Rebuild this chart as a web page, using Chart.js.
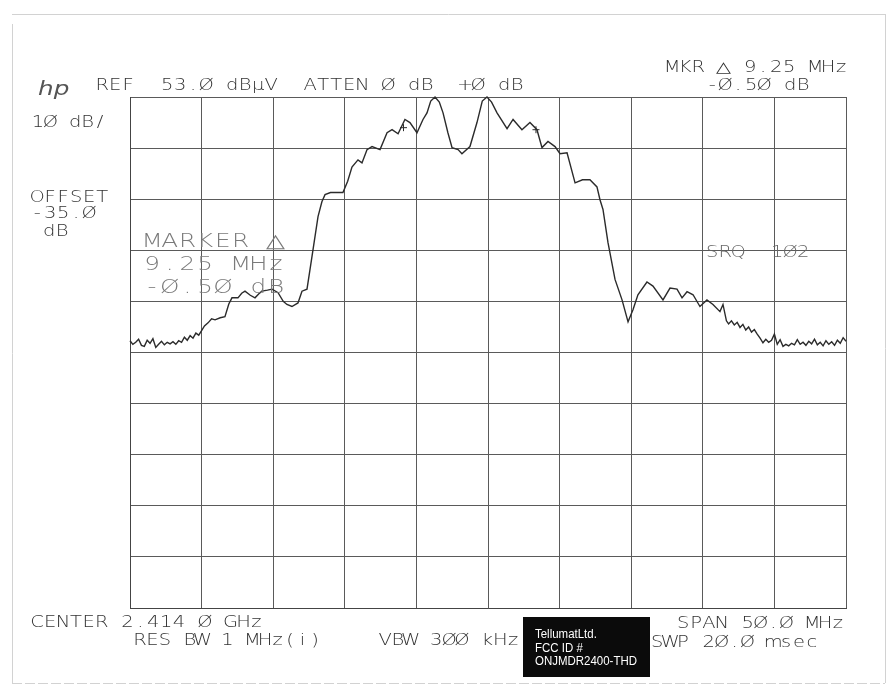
<!DOCTYPE html>
<html><head><meta charset="utf-8">
<script src="https://cdn.jsdelivr.net/npm/chart.js@4.4.1/dist/chart.umd.min.js"></script>
<style>html,body{margin:0;padding:0;background:#fff;}canvas{display:block;}</style>
</head><body>
<canvas id="c" width="896" height="700"></canvas>
<script>
// ---- data (frequency in MHz, level in dBµV) ----
const freqsMHz = [
 2389.0,2389.2,2389.4,2389.6,2389.8,2390.0,2390.2,2390.4,2390.6,2390.8,
 2391.0,2391.2,2391.4,2391.6,2391.8,2392.0,2392.2,2392.4,2392.6,2392.8,
 2393.0,2393.2,2393.4,2393.6,2393.8,2394.0,2394.2,2394.45,2394.7,2394.94,
 2395.3,2395.63,2395.9,2396.12,2396.54,2396.8,2397.03,2397.4,2397.73,2398.0,
 2398.22,2398.6,2398.92,2399.34,2399.7,2399.96,2400.31,2400.73,2401.01,2401.36,
 2401.71,2402.13,2402.4,2402.62,2403.0,2403.87,2404.2,2404.5,2404.92,2405.2,
 2405.55,2405.9,2406.46,2406.95,2407.3,2407.72,2408.2,2408.55,2409.04,2409.46,
 2409.74,2410.0,2410.3,2410.6,2410.86,2411.2,2411.49,2411.91,2412.18,2412.74,
 2413.23,2413.6,2413.93,2414.25,2414.63,2415.33,2415.75,2416.37,2416.93,2417.42,
 2417.77,2418.19,2418.68,2419.03,2419.52,2420.08,2420.6,2421.12,2421.61,2421.82,
 2422.03,2422.38,2422.87,2423.36,2423.78,2424.13,2424.47,2425.1,2425.52,2426.22,
 2426.71,2427.2,2427.55,2427.9,2428.32,2428.8,2429.29,2429.71,2430.2,2430.41,
 2430.65,2430.8,2431.0,2431.2,2431.4,2431.6,2431.8,2432.0,2432.2,2432.4,
 2432.6,2432.8,2433.0,2433.2,2433.4,2433.6,2433.8,2434.0,2434.2,2434.4,
 2434.6,2434.8,2435.0,2435.2,2435.4,2435.6,2435.8,2436.0,2436.2,2436.4,
 2436.6,2436.8,2437.0,2437.2,2437.4,2437.6,2437.8,2438.0,2438.2,2438.4,
 2438.6,2438.8,2439.0
];
const levelsDbuv = [
 5.3,4.6,5.0,5.6,4.4,4.2,5.4,4.8,5.7,4.0,
 4.6,5.2,4.5,5.0,4.7,5.1,4.6,5.3,5.0,6.0,
 5.4,6.3,5.8,6.8,6.4,7.3,8.2,8.8,9.6,9.4,
 9.8,10.0,12.5,13.7,13.7,14.6,15.0,14.2,13.7,14.5,
 15.0,15.2,15.4,14.7,13.0,12.4,12.0,12.7,15.0,15.4,
 21.8,29.6,32.5,33.9,34.3,34.3,36.5,39.3,40.7,40.1,
 42.7,43.3,42.7,46.0,46.6,45.8,48.6,48.0,46.0,48.6,
 49.9,52.2,53.0,52.0,49.9,46.0,43.1,42.7,41.9,43.3,
 48.0,52.2,53.0,52.0,49.9,46.8,48.6,46.6,48.0,46.6,
 43.1,44.3,43.3,41.9,42.1,36.2,36.8,36.8,35.4,32.9,
 31.0,24.5,17.3,13.3,9.0,11.4,14.3,16.8,16.0,13.3,
 15.6,15.4,13.7,14.9,14.3,12.0,13.3,12.4,11.0,12.4,
 9.2,8.6,9.2,8.4,8.9,7.9,8.5,7.4,8.0,7.0,
 7.5,6.6,5.8,4.9,5.6,5.0,5.4,6.6,4.6,5.5,
 4.2,4.6,4.3,4.8,4.5,5.5,4.6,5.0,4.4,5.2,
 4.7,5.6,4.5,5.0,4.3,5.3,4.6,5.1,4.4,5.4,
 4.8,5.9,5.2
];
const markerFreqs = [2408.1, 2417.35];
const markerLevels = [47.0, 46.6];
const xTicks = [2389,2394,2399,2404,2409,2414,2419,2424,2429,2434,2439];
const yTicks = [-47,-37,-27,-17,-7,3,13,23,33,43,53];

// ---- annotation layout ----
const PF = "300 15px 'DejaVu Sans ExtraLight', 'DejaVu Sans', sans-serif";
const BF = "300 19px 'DejaVu Sans ExtraLight', 'DejaVu Sans', sans-serif";
const labels = [
  ["REF", 97, 90, 13, PF, "#333", 1.3],
  ["53.Ø dBµV", 162, 90, 13, PF, "#333", 1.3],
  ["ATTEN Ø dB", 305, 90, 13, PF, "#333", 1.3],
  ["+Ø dB", 460, 90, 13, PF, "#333", 1.3],
  ["MKR △ 9.25 MHz", 667, 72, 13, PF, "#333", 1.3],
  ["-Ø.5Ø dB", 707, 90, 13, PF, "#333", 1.3],
  ["1Ø dB/", 33, 127, 12.4, PF, "#333", 1.3],
  ["OFFSET", 32, 202, 13, PF, "#333", 1.3],
  ["-35.Ø", 32, 218, 13, PF, "#333", 1.3],
  ["dB", 44, 236, 13, PF, "#333", 1.3],
  ["MARKER △", 145, 247, 17.7, BF, "#7a7a7a", 1.3],
  ["9.25 MHz", 145, 270, 17.7, BF, "#7a7a7a", 1.3],
  ["-Ø.5Ø dB", 145, 293, 17.7, BF, "#7a7a7a", 1.3],
  ["SRQ  1Ø2", 707, 257, 13, PF, "#666", 1.3],
  ["CENTER 2.414 Ø GHz", 32, 627, 12.9, PF, "#333", 1.3],
  ["RES BW 1 MHz(i)", 135, 645, 12.5, PF, "#333", 1.3],
  ["VBW 3ØØ kHz", 380, 645, 12.8, PF, "#333", 1.3],
  ["SPAN 5Ø.Ø MHz", 678, 628, 12.9, PF, "#333", 1.3],
  ["SWP 2Ø.Ø msec", 652, 647, 12.9, PF, "#333", 1.3]
];
const boxLines = ["TellumatLtd.", "FCC ID #", "ONJMDR2400-THD"];

function spaced(ctx, t, x, y, adv, font, color, sx) {
  ctx.font = font; ctx.fillStyle = color; ctx.textAlign = "center"; ctx.textBaseline = "alphabetic";
  const off = adv * 0.4;
  for (let i = 0; i < t.length; i++) {
    if (t[i] === " ") continue;
    ctx.save();
    ctx.translate(x + off + i * adv, y);
    ctx.scale(sx, 1);
    ctx.fillText(t[i], 0, 0);
    ctx.restore();
  }
}

const decor = {
  id: "decor",
  beforeDraw(chart) {
    const ctx = chart.ctx;
    ctx.save();
    ctx.fillStyle = "#fff"; ctx.fillRect(0, 0, chart.width, chart.height);
    ctx.strokeStyle = "#d2d2d2"; ctx.lineWidth = 1;
    ctx.beginPath();
    ctx.moveTo(12, 14.5); ctx.lineTo(885, 14.5);
    ctx.moveTo(12.5, 24); ctx.lineTo(12.5, 683);
    ctx.moveTo(885.5, 14); ctx.lineTo(885.5, 683);
    ctx.stroke();
    ctx.setLineDash([10, 3]);
    ctx.beginPath(); ctx.moveTo(12, 683.5); ctx.lineTo(885, 683.5); ctx.stroke();
    ctx.restore();
  },
  afterDraw(chart) {
    const ctx = chart.ctx;
    ctx.save();
    labels.forEach(l => spaced(ctx, l[0], l[1], l[2], l[3], l[4], l[5], l[6]));
    // hp logo
    ctx.save();
    ctx.translate(38, 95); ctx.scale(1.3, 1);
    ctx.font = "italic 300 19px 'DejaVu Sans ExtraLight', 'DejaVu Sans', sans-serif";
    ctx.fillStyle = "#555"; ctx.textAlign = "left";
    ctx.fillText("hp", 0, 0);
    ctx.restore();
    // black label box
    ctx.fillStyle = "#0b0b0b";
    ctx.fillRect(523, 617, 127, 60);
    ctx.font = "12.5px 'Liberation Sans', Arial, sans-serif";
    ctx.fillStyle = "#fff"; ctx.textAlign = "left";
    const r = Math.min(1, 102 / ctx.measureText(boxLines[2]).width);
    const ys = [638, 652, 665];
    boxLines.forEach((t, i) => {
      ctx.save(); ctx.translate(535, ys[i]); ctx.scale(r, 1); ctx.fillText(t, 0, 0); ctx.restore();
    });
    ctx.restore();
  }
};

const gridOpts = { color: "#5a5a5a", lineWidth: 1, drawTicks: false };
new Chart(document.getElementById("c").getContext("2d"), {
  type: "line",
  data: {
    datasets: [
      {
        data: freqsMHz.map((f, i) => ({ x: f, y: levelsDbuv[i] })),
        borderColor: "#2b2b2b", borderWidth: 1.4, pointRadius: 0, tension: 0, fill: false, clip: 4
      },
      {
        data: markerFreqs.map((f, i) => ({ x: f, y: markerLevels[i] })),
        showLine: false, pointStyle: "cross", pointRadius: 3.5, borderColor: "#2b2b2b", borderWidth: 1, clip: 4
      }
    ]
  },
  options: {
    responsive: false, animation: false, devicePixelRatio: 1,
    layout: { padding: { left: 130, top: 97, right: 50, bottom: 92 } },
    plugins: { legend: { display: false }, tooltip: { enabled: false } },
    scales: {
      x: {
        type: "linear", min: 2389, max: 2439,
        afterBuildTicks: s => { s.ticks = xTicks.map(v => ({ value: v })); },
        ticks: { display: false }, grid: gridOpts,
        border: { display: true, color: "#444", width: 1 }
      },
      y: {
        type: "linear", min: -47, max: 53,
        afterBuildTicks: s => { s.ticks = yTicks.map(v => ({ value: v })); },
        ticks: { display: false }, grid: gridOpts,
        border: { display: true, color: "#444", width: 1 }
      }
    }
  },
  plugins: [decor]
});
</script>
</body></html>
